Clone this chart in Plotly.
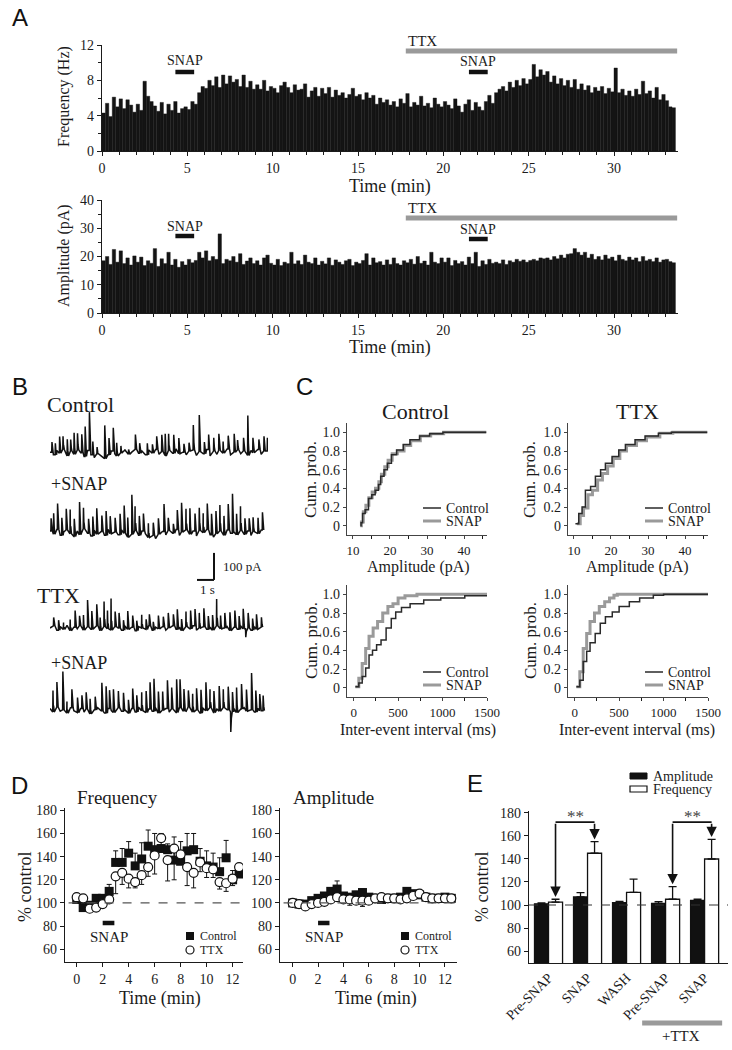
import plotly.graph_objects as go

W, H = 732, 1050
SERIF = "Liberation Serif"
SANS = "Liberation Sans"
INK = "#1b1b1b"
GRAY = "#9a9a9a"


def px(x):
    return x / W


def py(y):
    return 1 - y / H


# ======================= DATA =======================
# ---- Panel A: binned frequency / amplitude over time ----
A_BIN_MIN = 0.2
A_FREQ_HZ = [
    4.3, 5.4, 3.9, 6.1, 5.0,
    5.9, 4.8, 5.8, 5.2, 4.4,
    5.3, 4.6, 7.9, 6.2, 5.6,
    5.1, 4.5, 5.5, 4.2, 5.3,
    4.6, 5.6, 4.3, 4.8, 5.0,
    4.7, 5.6, 5.3, 6.6, 7.3,
    7.1, 8.0, 7.4, 8.4, 7.2,
    8.6, 7.6, 8.5, 7.8, 8.1,
    7.3, 8.6, 7.2, 7.9, 7.0,
    7.5, 7.0, 8.0, 6.8, 7.3,
    7.1, 6.6, 7.4, 7.8, 7.2,
    6.6, 7.5, 6.9, 7.0, 7.6,
    6.1, 6.8, 7.2, 6.2, 7.1,
    6.5, 7.2, 6.1, 6.9, 6.3,
    6.6, 6.0, 6.4, 7.1, 6.2,
    6.4, 5.8, 6.6, 6.0, 6.3,
    5.3, 6.0, 5.5, 5.8, 5.2,
    5.6, 5.0, 5.9, 5.4, 6.5,
    5.0, 5.5, 5.2, 6.2, 5.1,
    5.4, 4.9, 6.0, 5.3, 5.0,
    5.6, 5.2, 4.8, 5.9, 5.1,
    4.4, 5.3, 5.8, 4.6, 5.5,
    5.0, 4.6, 5.6, 6.3, 5.4,
    6.6, 7.0, 7.3, 6.8, 7.8,
    7.2, 8.0, 7.4, 8.2, 7.6,
    8.1, 9.8, 8.4, 9.2, 8.6,
    9.0, 7.8, 8.5, 7.6, 8.2,
    7.4, 8.0, 7.2, 8.1, 7.0,
    7.6, 6.9, 7.4, 6.6, 7.2,
    6.8, 7.3, 6.5, 7.1, 6.7,
    9.4, 6.6, 7.0, 6.3, 6.8,
    6.2, 7.0, 6.4, 7.9, 6.5,
    6.8, 6.0, 7.2, 5.8, 6.4,
    5.7, 5.0, 4.9,
]
A_AMP_PA = [
    18.5, 20.0, 17.2, 22.5, 18.0,
    22.0, 17.5, 19.5, 17.0, 20.2,
    18.0, 19.8, 16.8, 18.5, 17.6,
    22.8, 16.5, 19.2, 17.5, 21.5,
    17.0, 19.0, 16.2, 18.2, 17.0,
    19.0, 17.8, 18.6, 21.5, 19.5,
    22.0, 18.5, 20.0, 19.0, 28.0,
    17.5, 19.0, 18.5, 20.0, 18.0,
    21.0, 17.2, 18.4, 19.5, 17.5,
    18.5, 17.0, 19.5, 20.5, 17.6,
    17.0, 19.0, 16.8, 18.0, 17.5,
    21.5, 17.4, 18.5, 17.2, 20.5,
    18.0, 17.5, 19.5, 17.0, 18.3,
    17.4, 19.5, 16.9, 18.8, 18.0,
    17.2, 18.5, 19.0, 16.8, 18.0,
    17.5, 18.6, 21.0, 17.0, 19.5,
    17.8, 18.2, 17.0, 18.8, 17.2,
    19.5, 17.5, 17.0, 18.5, 17.8,
    19.0, 17.3, 20.0, 17.6, 18.4,
    17.0, 21.5, 18.0, 17.5, 19.5,
    18.0, 19.5, 16.8, 18.6, 17.5,
    18.2, 17.0, 19.8, 17.5, 21.5,
    16.5, 18.5, 17.2, 19.0, 17.6,
    18.0, 17.5, 18.8, 17.2, 18.5,
    18.0, 19.0, 18.3, 18.8, 18.0,
    18.6, 19.0, 18.5, 19.5, 19.2,
    19.5, 18.8, 20.0, 19.2, 20.5,
    19.5, 20.8, 21.0, 22.8, 21.5,
    20.5, 21.5, 19.5, 20.8, 19.0,
    20.0, 18.8, 20.5, 19.2, 19.8,
    18.5, 20.5, 19.0, 18.5, 19.8,
    18.8, 19.5, 18.2, 20.0, 18.5,
    19.0, 18.2, 19.5, 18.0, 18.8,
    19.0, 18.2, 17.8,
]
A_SNAP_PERIODS = [(4.3, 5.4), (21.5, 22.6)]
A_TTX_PERIOD = (17.8, 33.7)

# ---- Panel B: example current traces (baseline samples + events, pA, s) ----
B_DT = 0.2
B_CTRL_BASE = [0, -10, 6, -4, 10, -14, 4, -8, 8, -2, -16, 6, -10, -20, -6, -14, -24, -10, 4, -6,
               -14, -2, 8, -8, 0, 10, -4, 4, -10, 8, -4, 10, -8, 2, -12, 6, -4, 12, -6, 0,
               -10, 4, 8, -12, 2, -6, 10, -14, 4, -8, 6, -4, 12, -10, 0, 8, -6, 4, -12, 6,
               -2, 10, -8, 4]
B_CTRL_EV_T = [0.1, 0.3, 0.55, 0.75, 1.0, 1.2, 1.4, 1.6, 1.85, 2.05, 2.3, 2.5, 2.75, 3.2, 3.45,
               3.7, 3.9, 4.15, 4.6, 5.0, 5.25, 5.7, 6.0, 6.25, 6.55, 6.75, 6.95, 7.25, 7.55,
               7.85, 8.15, 8.4, 8.75, 9.05, 9.3, 9.6, 9.9, 10.15, 10.45, 10.8, 11.0, 11.35,
               11.6, 11.9, 12.25, 12.55, 12.75]
B_CTRL_EV_A = [37, 43, 62, 49, 62, 43, 80, 62, 68, 111, 142, 49, 25, 123, 62, 86, 49, 25, 18,
               55, 37, 43, 33, 49, 62, 80, 62, 68, 58, 31, 31, 92, 135, 43, 55, 49, 62, 43,
               49, 68, 37, 49, 148, 55, 37, 55, 49]

B_SNAP_BASE = [4, -8, 10, -12, 0, 8, -6, -16, 4, -10, 12, -4, -14, 6, -8, 2, -12, 10, -6, 0,
               -10, 8, -4, -18, -8, 6, -12, 4, -6, -20, -12, -24, -8, 2, -10, 6, -4, 10, -12, 0,
               8, -8, 4, -14, 6, -2, 10, -10, -18, -6, 4, -12, 8, -4, 0, -10, 6, -8, 4, -12,
               2, -6, 8]
B_SNAP_EV_T = [0.05, 0.2, 0.43, 0.68, 0.94, 1.17, 1.41, 1.72, 1.95, 2.25, 2.5, 2.73, 3.03, 3.28,
               3.52, 3.81, 4.1, 4.34, 4.55, 4.79, 4.98, 5.23, 5.47, 5.76, 6.05, 6.35, 6.68,
               6.93, 7.23, 7.46, 7.71, 7.97, 8.2, 8.5, 8.75, 8.98, 9.22, 9.47, 9.73, 9.96,
               10.2, 10.45, 10.7, 10.94, 11.17, 11.43, 11.68, 11.91, 12.2, 12.46]
B_SNAP_EV_A = [47, 78, 96, 65, 78, 90, 65, 121, 78, 53, 72, 96, 59, 90, 65, 53, 78, 102, 72,
               146, 90, 72, 65, 53, 47, 59, 102, 47, 35, 72, 109, 78, 96, 65, 84, 72, 96, 78,
               84, 96, 72, 96, 146, 78, 90, 59, 47, 53, 59, 65]

B_TTX_BASE = [0, 8, -8, 5, -5, 10, -10, 3, -3, 8, -8, 5, -5, 0, 8, -10, 5, -3, -8, 5,
              0, -8, 8, -5, 3, -10, 5, 0, -5, 8, -8, 3, -3, 5, -8, 0, 8, -5, 3, -10,
              5, -3, 8, -8, 0, 5, -5, 3, -8, 8, -3, 0, 5, -10, 3, -5, 8, -3, 0, -8,
              5, -5, 3]
B_TTX_EV_T = [0.2, 0.49, 0.78, 1.17, 1.46, 1.72, 1.95, 2.19, 2.44, 2.73, 2.93, 3.16, 3.36, 3.57,
              3.81, 4.04, 4.3, 4.55, 4.84, 5.08, 5.37, 5.63, 5.82, 6.05, 6.35, 6.64, 6.93,
              7.23, 7.46, 7.71, 7.97, 8.24, 8.5, 8.75, 9.02, 9.28, 9.53, 9.77, 10.0, 10.25,
              10.55, 10.84, 11.09, 11.33, 11.48, 11.62, 11.88, 12.11, 12.4]
B_TTX_EV_A = [31, 37, 25, 41, 62, 37, 56, 99, 68, 80, 49, 93, 68, 117, 56, 56, 37, 68, 43, 37,
              49, 37, 43, 31, 49, 37, 56, 43, 74, 43, 56, 68, 62, 56, 68, 49, 56, 99, 49, 56,
              68, 62, 49, 74, -31, 56, 43, 56, 37]

B_TTXS_BASE = [5, -8, 10, -5, 0, -12, 8, -3, -10, 5, -8, 3, -15, 0, 8, -5, -12, 5, -3, -10,
               8, -5, 0, -12, 5, -8, 10, -3, -10, 3, -5, 8, -12, 0, 5, -8, 3, -10, 8, -3,
               -5, 10, -8, 0, -12, 5, -3, 8, -10, 3, -5, 8, 0, -8, 5, -10, 3, 8, -5, 0,
               -8, 5, -3]
B_TTXS_EV_T = [0.16, 0.39, 0.74, 0.98, 1.27, 1.6, 1.86, 2.11, 2.34, 2.64, 3.03, 3.28, 3.48, 3.71,
               4.0, 4.3, 4.59, 4.84, 5.08, 5.37, 5.63, 5.86, 6.09, 6.35, 6.6, 6.88, 7.13,
               7.42, 7.62, 7.85, 8.11, 8.36, 8.59, 8.85, 9.14, 9.38, 9.61, 9.92, 10.16,
               10.45, 10.6, 10.7, 10.94, 11.23, 11.52, 11.82, 12.07, 12.3, 12.5]
B_TTXS_EV_A = [80, 93, 142, 43, 68, 56, 49, 62, 56, 49, 105, 99, 68, 86, 62, 68, 49, 74, 62, 68,
               80, 99, 120, 80, 68, 105, 80, 123, 105, 80, 62, 68, 80, 86, 105, 68, 80, 93,
               68, 86, -74, 74, 93, 93, 80, 136, 80, 62, 56]

# ---- Panel C: cumulative distributions ----
C_AMP_CTRL_CTRL_X = [12.0, 12.2, 12.6, 13.3, 14.2, 15.1, 16.0, 16.9, 17.5, 18.4, 19.3, 20.4, 21.8,
                     23.6, 25.4, 28.0, 30.7, 34.3, 46.0]
C_AMP_CTRL_CTRL_Y = [0.0, 0.03, 0.13, 0.17, 0.29, 0.33, 0.38, 0.44, 0.53, 0.6, 0.67, 0.76, 0.81,
                     0.87, 0.92, 0.96, 0.985, 1.0, 1.0]
C_AMP_CTRL_SNAP_X = [12.0, 12.3, 12.8, 13.5, 14.3, 15.2, 16.1, 17.0, 17.7, 18.6, 19.5, 20.6, 22.0,
                     23.8, 25.6, 28.2, 31.0, 34.5, 46.0]
C_AMP_CTRL_SNAP_Y = [0.0, 0.04, 0.15, 0.22, 0.3, 0.36, 0.4, 0.47, 0.55, 0.63, 0.7, 0.77, 0.8,
                     0.86, 0.91, 0.96, 0.985, 1.0, 1.0]
C_AMP_TTX_CTRL_X = [10.4, 11.3, 12.2, 13.1, 14.5, 15.8, 17.2, 18.5, 20.3, 22.1, 23.9, 26.5, 29.2,
                    32.8, 36.3, 46.0]
C_AMP_TTX_CTRL_Y = [0.02, 0.13, 0.2, 0.38, 0.42, 0.53, 0.6, 0.67, 0.74, 0.81, 0.87, 0.92, 0.96,
                    0.99, 1.0, 1.0]
C_AMP_TTX_SNAP_X = [10.8, 11.7, 12.6, 13.8, 15.0, 16.4, 17.7, 19.1, 20.6, 22.4, 24.2, 26.9, 29.6,
                    33.2, 36.7, 46.0]
C_AMP_TTX_SNAP_Y = [0.02, 0.11, 0.19, 0.33, 0.38, 0.49, 0.56, 0.64, 0.72, 0.8, 0.86, 0.91, 0.95,
                    0.99, 1.0, 1.0]
C_IEI_CTRL_CTRL_X = [19, 58, 96, 135, 173, 212, 258, 308, 365, 423, 473, 538, 635, 788, 980, 1250,
                     1520]
C_IEI_CTRL_CTRL_Y = [0.01, 0.05, 0.12, 0.21, 0.35, 0.4, 0.46, 0.51, 0.64, 0.74, 0.81, 0.86, 0.9,
                     0.94, 0.96, 0.985, 0.99]
C_IEI_CTRL_SNAP_X = [19, 58, 96, 135, 173, 219, 269, 327, 385, 442, 500, 577, 712, 1520]
C_IEI_CTRL_SNAP_Y = [0.01, 0.1, 0.26, 0.42, 0.55, 0.64, 0.71, 0.8, 0.87, 0.9, 0.96, 0.985, 1.0,
                     1.0]
C_IEI_TTX_CTRL_X = [19, 58, 96, 135, 173, 231, 288, 346, 423, 500, 615, 731, 885, 1000, 1520]
C_IEI_TTX_CTRL_Y = [0.01, 0.08, 0.28, 0.39, 0.48, 0.58, 0.69, 0.76, 0.81, 0.87, 0.92, 0.96, 0.99,
                    1.0, 1.0]
C_IEI_TTX_SNAP_X = [19, 58, 96, 135, 173, 223, 277, 338, 392, 442, 480, 1520]
C_IEI_TTX_SNAP_Y = [0.01, 0.17, 0.42, 0.58, 0.71, 0.8, 0.87, 0.92, 0.96, 0.99, 1.0, 1.0]

# ---- Panel D: time course, % control ----
D_T = [0, 0.5, 1, 1.5, 2, 2.5, 3, 3.5, 4, 4.5, 5, 5.5, 6, 6.5, 7, 7.5, 8, 8.5, 9, 9.5, 10,
       10.5, 11, 11.5, 12, 12.5]
D_FREQ_CTRL = [103, 96, 98, 104, 104, 110, 135, 135, 143, 132, 138, 149, 146, 147, 146, 137, 136,
               145, 146, 136, 132, 131, 127, 139, 120, 125]
D_FREQ_CTRL_ERR = [2, 2, 3, 3, 3, 6, 10, 12, 10, 11, 14, 14, 14, 13, 5, 20, 17, 15, 14, 11, 13,
                   12, 12, 15, 8, 5]
D_FREQ_TTX = [105, 104, 95, 96, 99, 103, 123, 126, 121, 118, 124, 131, 141, 156, 137, 147, 142,
              131, 126, 135, 130, 129, 118, 117, 121, 131]
D_FREQ_TTX_ERR = [2, 2, 2, 2, 2, 3, 15, 10, 8, 5, 8, 8, 16, 3, 18, 27, 4, 16, 13, 8, 8, 7, 6, 7,
                  6, 5]
D_AMP_CTRL = [100, 99, 99, 102, 104, 106, 110, 112, 106, 105, 107, 109, 105, 104, 103, 104, 104,
              105, 110, 108, 107, 105, 104, 104, 105, 104]
D_AMP_CTRL_ERR = [2, 2, 2, 2, 2, 3, 3, 7, 3, 2, 3, 3, 2, 2, 2, 2, 2, 2, 3, 2, 2, 2, 2, 2, 2, 2]
D_AMP_TTX = [100, 99, 97, 99, 100, 101, 103, 105, 103, 103, 102, 102, 102, 104, 105, 104, 104,
             103, 104, 106, 108, 105, 104, 104, 104, 104]
D_AMP_TTX_ERR = [2, 3, 3, 2, 2, 2, 2, 3, 2, 5, 2, 5, 2, 2, 2, 2, 2, 2, 2, 2, 2, 2, 2, 2, 2, 2]
D_SNAP_PERIOD = (2.0, 2.9)

# ---- Panel E: summary bars ----
E_CATS = ["Pre-SNAP", "SNAP", "WASH", "Pre-SNAP", "SNAP"]
E_AMP = [101, 107, 102, 101.5, 104]
E_AMP_ERR = [0.8, 3.7, 1.2, 1.5, 1.0]
E_FREQ = [102.5, 145, 111, 105, 140]
E_FREQ_ERR = [2.5, 10, 11.5, 11, 17]
E_SIG_PAIRS = [(0, 1), (3, 4)]
E_TTX_CATS = (3, 4)

# ======================= FIGURE =======================
fig = go.Figure()


def ax(domain, rng, size=13, **kw):
    d = dict(domain=domain, range=rng, showline=True, linecolor=INK, linewidth=1.3,
             ticks="outside", ticklen=4, tickwidth=1.1, tickcolor=INK, showgrid=False,
             zeroline=False, fixedrange=True, automargin=False,
             tickfont=dict(family=SERIF, size=size, color=INK))
    d.update(kw)
    return d


def xd(a, b):
    return [px(a), px(b)]


def yd(top, bottom):
    return [py(bottom), py(top)]


def minor(dt):
    return dict(dtick=dt, ticklen=2.5, tickwidth=1, tickcolor=INK, ticks="outside")


layout = dict(
    width=W, height=H, margin=dict(l=0, r=0, t=0, b=0, pad=0, autoexpand=False),
    autosize=False, paper_bgcolor="white", plot_bgcolor="white", showlegend=False,
    barmode="group", bargap=0.28, bargroupgap=0.0,
    font=dict(family=SERIF, color=INK),
)

# A axes
layout["xaxis"] = ax(xd(102, 678), [0, 33.75], 14, anchor="y", dtick=5, tick0=0, minor=minor(1))
layout["yaxis"] = ax(yd(45, 151), [0, 12], 14, anchor="x", dtick=4, tick0=0, minor=minor(2))
layout["xaxis2"] = ax(xd(102, 678), [0, 33.75], 14, anchor="y2", dtick=5, tick0=0, minor=minor(1))
layout["yaxis2"] = ax(yd(200, 313), [0, 40], 14, anchor="x2", dtick=10, tick0=0, minor=minor(5))
# B axes (hidden)
layout["xaxis3"] = dict(domain=xd(50, 268), range=[0, 12.8], visible=False, anchor="y3",
                        fixedrange=True, automargin=False)
layout["yaxis3"] = dict(domain=yd(390, 735), range=[0, 1277], visible=False, anchor="x3",
                        fixedrange=True, automargin=False)
# C axes
cy_ticks = dict(tickvals=[0, 0.2, 0.4, 0.6, 0.8, 1.0],
                ticktext=["0", "0.2", "0.4", "0.6", "0.8", "1.0"])
c_common = dict(linecolor="#444", tickcolor="#444", ticklen=3)
layout["xaxis4"] = ax(xd(347, 487), [8.4, 46.2], 13, anchor="y4", tickvals=[10, 20, 30, 40],
                      minor=minor(5), **c_common)
layout["yaxis4"] = ax(yd(423, 535), [-0.1, 1.1], 14, anchor="x4", **c_common, **cy_ticks)
layout["xaxis5"] = ax(xd(568, 708), [8.4, 46.2], 13, anchor="y5", tickvals=[10, 20, 30, 40],
                      minor=minor(5), **c_common)
layout["yaxis5"] = ax(yd(423, 535), [-0.1, 1.1], 14, anchor="x5", **c_common, **cy_ticks)
layout["xaxis6"] = ax(xd(347, 487), [-75, 1500], 13, anchor="y6", tickvals=[0, 500, 1000, 1500],
                      minor=minor(250), **c_common)
layout["yaxis6"] = ax(yd(585, 697), [-0.1, 1.1], 14, anchor="x6", **c_common, **cy_ticks)
layout["xaxis7"] = ax(xd(568, 708), [-75, 1500], 13, anchor="y7", tickvals=[0, 500, 1000, 1500],
                      minor=minor(250), **c_common)
layout["yaxis7"] = ax(yd(585, 697), [-0.1, 1.1], 14, anchor="x7", **c_common, **cy_ticks)
# D axes
d_y = dict(tickvals=[60, 80, 100, 120, 140, 160, 180])
layout["xaxis8"] = ax(xd(65, 243), [-0.9, 12.8], 14, anchor="y8", dtick=2, tick0=0)
layout["yaxis8"] = ax(yd(808, 962), [49, 182], 14, anchor="x8", **d_y)
layout["xaxis9"] = ax(xd(280, 457), [-1.0, 12.95], 14, anchor="y9", dtick=2, tick0=0)
layout["yaxis9"] = ax(yd(808, 962), [49, 182], 14, anchor="x9", **d_y)
# E axes
layout["xaxis10"] = ax(xd(529, 728), [-0.5, 4.6], 14, anchor="y10",
                       tickvals=list(range(len(E_CATS))), ticktext=E_CATS, tickangle=-45,
                       ticks="")
layout["yaxis10"] = ax(yd(811, 963), [49.6, 181.7], 14, anchor="x10", **d_y)

# ---------- traces ----------
# Panel A
a_centers = [(i + 0.5) * A_BIN_MIN for i in range(len(A_FREQ_HZ))]
fig.add_trace(go.Bar(x=a_centers, y=A_FREQ_HZ, width=A_BIN_MIN, xaxis="x", yaxis="y",
                     marker=dict(color="#141414", line=dict(color="#141414", width=0.4))))
a_centers2 = [(i + 0.5) * A_BIN_MIN for i in range(len(A_AMP_PA))]
fig.add_trace(go.Bar(x=a_centers2, y=A_AMP_PA, width=A_BIN_MIN, xaxis="x2", yaxis="y2",
                     marker=dict(color="#141414", line=dict(color="#141414", width=0.4))))

# Panel B
B_OFFSETS = [1047, 751, 396, 93]


def trace_xy(base, ev_t, ev_a, dt, off):
    pts = [(i * dt, b) for i, b in enumerate(base)]
    for t, a in zip(ev_t, ev_a):
        b = base[min(int(round(t / dt)), len(base) - 1)]
        pts += [(t, b), (t + 0.015, b + a), (t + 0.05, b + 0.3 * a), (t + 0.09, b)]
    pts.sort()
    return [p[0] for p in pts], [p[1] + off for p in pts]


for (base, et, ea), off in zip(
        [(B_CTRL_BASE, B_CTRL_EV_T, B_CTRL_EV_A), (B_SNAP_BASE, B_SNAP_EV_T, B_SNAP_EV_A),
         (B_TTX_BASE, B_TTX_EV_T, B_TTX_EV_A), (B_TTXS_BASE, B_TTXS_EV_T, B_TTXS_EV_A)],
        B_OFFSETS):
    bx, by = trace_xy(base, et, ea, B_DT, off)
    fig.add_trace(go.Scatter(x=bx, y=by, mode="lines", xaxis="x3", yaxis="y3",
                             line=dict(color="#111", width=1.5)))

# Panel C
for (xs, ys, xa, ya) in [
    (C_AMP_CTRL_SNAP_X, C_AMP_CTRL_SNAP_Y, "x4", "y4"),
    (C_AMP_TTX_SNAP_X, C_AMP_TTX_SNAP_Y, "x5", "y5"),
    (C_IEI_CTRL_SNAP_X, C_IEI_CTRL_SNAP_Y, "x6", "y6"),
    (C_IEI_TTX_SNAP_X, C_IEI_TTX_SNAP_Y, "x7", "y7"),
]:
    fig.add_trace(go.Scatter(x=xs, y=ys, mode="lines", xaxis=xa, yaxis=ya,
                             line=dict(color=GRAY, width=3, shape="hv")))
for (xs, ys, xa, ya) in [
    (C_AMP_CTRL_CTRL_X, C_AMP_CTRL_CTRL_Y, "x4", "y4"),
    (C_AMP_TTX_CTRL_X, C_AMP_TTX_CTRL_Y, "x5", "y5"),
    (C_IEI_CTRL_CTRL_X, C_IEI_CTRL_CTRL_Y, "x6", "y6"),
    (C_IEI_TTX_CTRL_X, C_IEI_TTX_CTRL_Y, "x7", "y7"),
]:
    fig.add_trace(go.Scatter(x=xs, y=ys, mode="lines", xaxis=xa, yaxis=ya,
                             line=dict(color="#2a2a2a", width=1.5, shape="hv")))

# Panel D
n = len(D_T)
for (yc, ec, yt, et, xa, ya) in [
    (D_FREQ_CTRL, D_FREQ_CTRL_ERR, D_FREQ_TTX, D_FREQ_TTX_ERR, "x8", "y8"),
    (D_AMP_CTRL, D_AMP_CTRL_ERR, D_AMP_TTX, D_AMP_TTX_ERR, "x9", "y9"),
]:
    fig.add_trace(go.Scatter(
        x=D_T, y=yc, mode="markers", xaxis=xa, yaxis=ya,
        marker=dict(symbol="square", size=9, color="#111"),
        error_y=dict(type="data", symmetric=False, array=ec, arrayminus=[0] * n,
                     color="#111", thickness=1, width=2.5)))
    fig.add_trace(go.Scatter(
        x=D_T, y=yt, mode="markers", xaxis=xa, yaxis=ya,
        marker=dict(symbol="circle", size=9, color="white", line=dict(color="#111", width=1.2)),
        error_y=dict(type="data", symmetric=False, array=[0] * n, arrayminus=et,
                     color="#111", thickness=1, width=2.5)))

# Panel E
ex = list(range(len(E_CATS)))
fig.add_trace(go.Bar(x=ex, y=E_AMP, xaxis="x10", yaxis="y10",
                     marker=dict(color="#111", line=dict(color="#111", width=1.2)),
                     error_y=dict(type="data", symmetric=False, array=E_AMP_ERR,
                                  arrayminus=[0] * len(ex), color="#111", thickness=1.3,
                                  width=4)))
fig.add_trace(go.Bar(x=ex, y=E_FREQ, xaxis="x10", yaxis="y10",
                     marker=dict(color="white", line=dict(color="#111", width=1.3)),
                     error_y=dict(type="data", symmetric=False, array=E_FREQ_ERR,
                                  arrayminus=[0] * len(ex), color="#111", thickness=1.3,
                                  width=4)))

# ---------- shapes & annotations ----------
shapes = []
ann = []


def txt(x, y, s, size, family=SERIF, xanchor="center", yanchor="middle", angle=0, color=INK,
        xref="paper", yref="paper"):
    ann.append(dict(x=x, y=y, text=s, showarrow=False, xref=xref, yref=yref,
                    xanchor=xanchor, yanchor=yanchor, textangle=angle,
                    font=dict(family=family, size=size, color=color)))


def pline(x0, y0, x1, y1, color=INK, width=1.5, xref="paper", yref="paper", dash=None):
    ln = dict(color=color, width=width)
    if dash:
        ln["dash"] = dash
    shapes.append(dict(type="line", x0=x0, y0=y0, x1=x1, y1=y1, xref=xref, yref=yref, line=ln))


# Panel letters
for lab, x, y in [("A", 20, 18), ("B", 20, 386), ("C", 304, 386), ("D", 19, 785), ("E", 475, 783)]:
    txt(px(x), py(y), lab, 24, family=SANS, color="#111")

# Panel A labels
for xa, ttx_y, ttx_ty, snap_info, ytitle, ycen, ttl_y in [
    ("x", 51, 41, [(72, 61), (72, 62)], "Frequency (Hz)", 97, 186),
    ("x2", 218, 208, [(236, 226), (239, 229)], "Amplitude (pA)", 256, 347),
]:
    pline(A_TTX_PERIOD[0], py(ttx_y), A_TTX_PERIOD[1], py(ttx_y), color=GRAY, width=5, xref=xa)
    txt(A_TTX_PERIOD[0], py(ttx_ty), "TTX", 15, xanchor="left", xref=xa)
    for (t0, t1), (bar_y, lab_y) in zip(A_SNAP_PERIODS, snap_info):
        pline(t0, py(bar_y), t1, py(bar_y), color="#111", width=4.5, xref=xa)
        txt((t0 + t1) / 2, py(lab_y), "SNAP", 14, xref=xa)
    txt(px(64), py(ycen), ytitle, 16, angle=-90)
    txt(px(390), py(ttl_y), "Time (min)", 18)

# Panel B labels
txt(px(45), py(404), "Control", 22, xanchor="left")
txt(px(49), py(484), "+SNAP", 18, xanchor="left")
txt(px(35), py(595), "TTX", 22, xanchor="left")
txt(px(49), py(663), "+SNAP", 18, xanchor="left")
# scale bar: 1 s x 100 pA
SB_T, SB_Y = 9.63, 574
pline(SB_T, SB_Y, SB_T, SB_Y + 100, color="#111", width=2, xref="x3", yref="y3")
pline(SB_T - 1, SB_Y, SB_T, SB_Y, color="#111", width=2, xref="x3", yref="y3")
txt(px(221), py(566), "100 pA", 13, xanchor="left")
txt(px(207), py(589), "1 s", 13)

# Panel C labels
txt(px(415), py(411), "Control", 22)
txt(px(637), py(411), "TTX", 22)
for xc, ycen in [(311, 480), (530, 480), (311, 641), (530, 641)]:
    txt(px(xc), py(ycen), "Cum. prob.", 17, angle=-90)
for xc in (418, 637):
    txt(px(xc), py(567), "Amplitude (pA)", 16)
    txt(px(xc), py(730), "Inter-event interval (ms)", 16)
for lx, ly in [(423, 508), (645, 508), (423, 672), (645, 672)]:
    pline(px(lx), py(ly), px(lx + 18), py(ly), color="#2a2a2a", width=1.5)
    pline(px(lx), py(ly + 13), px(lx + 18), py(ly + 13), color=GRAY, width=3)
    txt(px(lx + 21), py(ly), "Control", 14, xanchor="left")
    txt(px(lx + 21), py(ly + 13), "SNAP", 14, xanchor="left")

# Panel D labels
txt(px(117), py(797), "Frequency", 19)
txt(px(333), py(797), "Amplitude", 19)
txt(px(25), py(887), "% control", 18, angle=-90)
txt(px(160), py(998), "Time (min)", 18)
txt(px(376), py(998), "Time (min)", 18)
for xa, yr in [("x8", "y8"), ("x9", "y9")]:
    pline(0.02, 100, 1, 100, color="#555", width=1.2, xref=xa + " domain", yref=yr, dash="dash")
    pline(D_SNAP_PERIOD[0], py(923), D_SNAP_PERIOD[1], py(923), color="#111", width=4.5, xref=xa)
    txt((D_SNAP_PERIOD[0] + D_SNAP_PERIOD[1]) / 2, py(937), "SNAP", 15, xref=xa)
for mx in (190, 405):
    shapes.append(dict(type="rect", xref="paper", yref="paper", x0=px(mx - 4), x1=px(mx + 4),
                       y0=py(940), y1=py(932), fillcolor="#111", line=dict(width=0)))
    shapes.append(dict(type="circle", xref="paper", yref="paper", x0=px(mx - 4), x1=px(mx + 4),
                       y0=py(954), y1=py(946), fillcolor="white",
                       line=dict(color="#111", width=1.2)))
    txt(px(mx + 8), py(936), "Control", 12, xanchor="left")
    txt(px(mx + 8), py(950), "TTX", 12, xanchor="left")

# Panel E labels
txt(px(482), py(887), "% control", 18, angle=-90)
pline(0, 100, 1, 100, color="#333", width=1.2, xref="x10 domain", yref="y10", dash="dash")
shapes.append(dict(type="rect", xref="paper", yref="paper", x0=px(630), x1=px(647),
                   y0=py(779), y1=py(773), fillcolor="#111", line=dict(color="#111", width=1)))
shapes.append(dict(type="rect", xref="paper", yref="paper", x0=px(630), x1=px(647),
                   y0=py(792), y1=py(786), fillcolor="white", line=dict(color="#111", width=1.2)))
txt(px(651), py(776), "Amplitude", 14, xanchor="left")
txt(px(651), py(789), "Frequency", 14, xanchor="left")

FREQ_OFF = (1 - layout["bargap"]) / 4
BRACKET_Y = 172
for i, j in E_SIG_PAIRS:
    xl, xr = i + FREQ_OFF, j + FREQ_OFF
    pline(xl, BRACKET_Y, xr, BRACKET_Y, color="#111", width=1.6, xref="x10", yref="y10")
    for k, xk in ((i, xl), (j, xr)):
        tip = E_FREQ[k] + E_FREQ_ERR[k] + 2
        ann.append(dict(x=xk, y=tip, ax=xk, ay=BRACKET_Y, xref="x10", yref="y10",
                        axref="x10", ayref="y10", text="", showarrow=True, arrowhead=2,
                        arrowsize=1.3, arrowwidth=1.6, arrowcolor="#111", standoff=0))
    txt((xl + xr) / 2, BRACKET_Y + 5, "**", 17, xref="x10", yref="y10", color="#444")
pline(E_TTX_CATS[0] - 0.6, py(1023), E_TTX_CATS[1] + 0.45, py(1023), color=GRAY, width=5,
      xref="x10")
txt(px(681), py(1036), "+TTX", 15)

layout["shapes"] = shapes
layout["annotations"] = ann
fig.update_layout(**layout)
fig.write_html(
    "out.html",
    config={"displayModeBar": False},
    post_script="document.body.style.margin='0';document.body.style.padding='0';"
                "document.documentElement.style.overflow='hidden';",
)
